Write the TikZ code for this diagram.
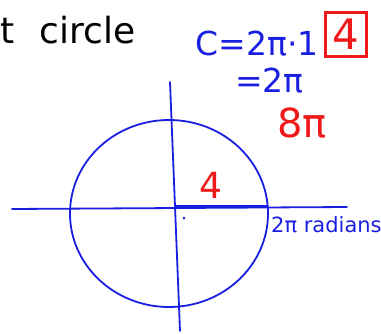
\documentclass[tikz,border=0pt]{standalone}
\usepackage{fontspec}
\setmainfont{DejaVu Sans}
\usetikzlibrary{shapes.geometric}
\definecolor{penblue}{RGB}{25,30,225}
\definecolor{penred}{RGB}{240,25,25}
\tikzset{
  pen/.style={draw=penblue, line width=1.8pt, line cap=round},
  bluetxt/.style={text=penblue, inner sep=0pt},
  redtxt/.style={text=penred, inner sep=0pt},
}
\begin{document}
\begin{tikzpicture}[x=1pt,y=-1pt]
\useasboundingbox (0,0) rectangle (381,333);
% circle
\node[ellipse, pen, minimum width=198pt, minimum height=187pt, inner sep=0pt] (circ) at (169,213.5) {};
% axes
\coordinate (hl) at (12,209);
\coordinate (hr) at (347,207);
\coordinate (vt) at (170,82);
\coordinate (vb) at (180,331);
\draw[pen] (hl) -- (hr);
\draw[pen] (vt) -- (vb);
% radius
\coordinate (o) at (174,206.5);
\coordinate (re) at (268,206.5);
\draw[draw=penblue, line width=3.5pt] (o) -- (re);
\node[circle, fill=penblue, inner sep=0pt, minimum size=3pt] (dot) at (184,218) {};
% title
\node[anchor=base west, inner sep=0pt, font=\fontsize{36}{38}\selectfont] (title) at (0,43) {t \hspace{14pt}circle};
% formulas
\node[bluetxt, anchor=base east, font=\fontsize{33}{35}\selectfont] (c1) at (319,55) {C=2π·1};
\node[draw=penred, line width=2.2pt, minimum width=41pt, minimum height=44pt, inner sep=0pt, text=penred, font=\fontsize{42}{44}\selectfont] (box) at (346,34.5) {4};
\node[bluetxt, anchor=base west, font=\fontsize{33}{35}\selectfont] (c2) at (235,92) {=2π};
\node[redtxt, anchor=base west, font=\fontsize{40}{42}\selectfont] (c3) at (277,137) {8π};
\node[redtxt, anchor=base, font=\fontsize{36}{38}\selectfont] (r4) at (211,198) {4};
\node[bluetxt, anchor=base west, font=\fontsize{21}{23}\selectfont] (rad) at (271,232) {2π radians};
\end{tikzpicture}
\end{document}
